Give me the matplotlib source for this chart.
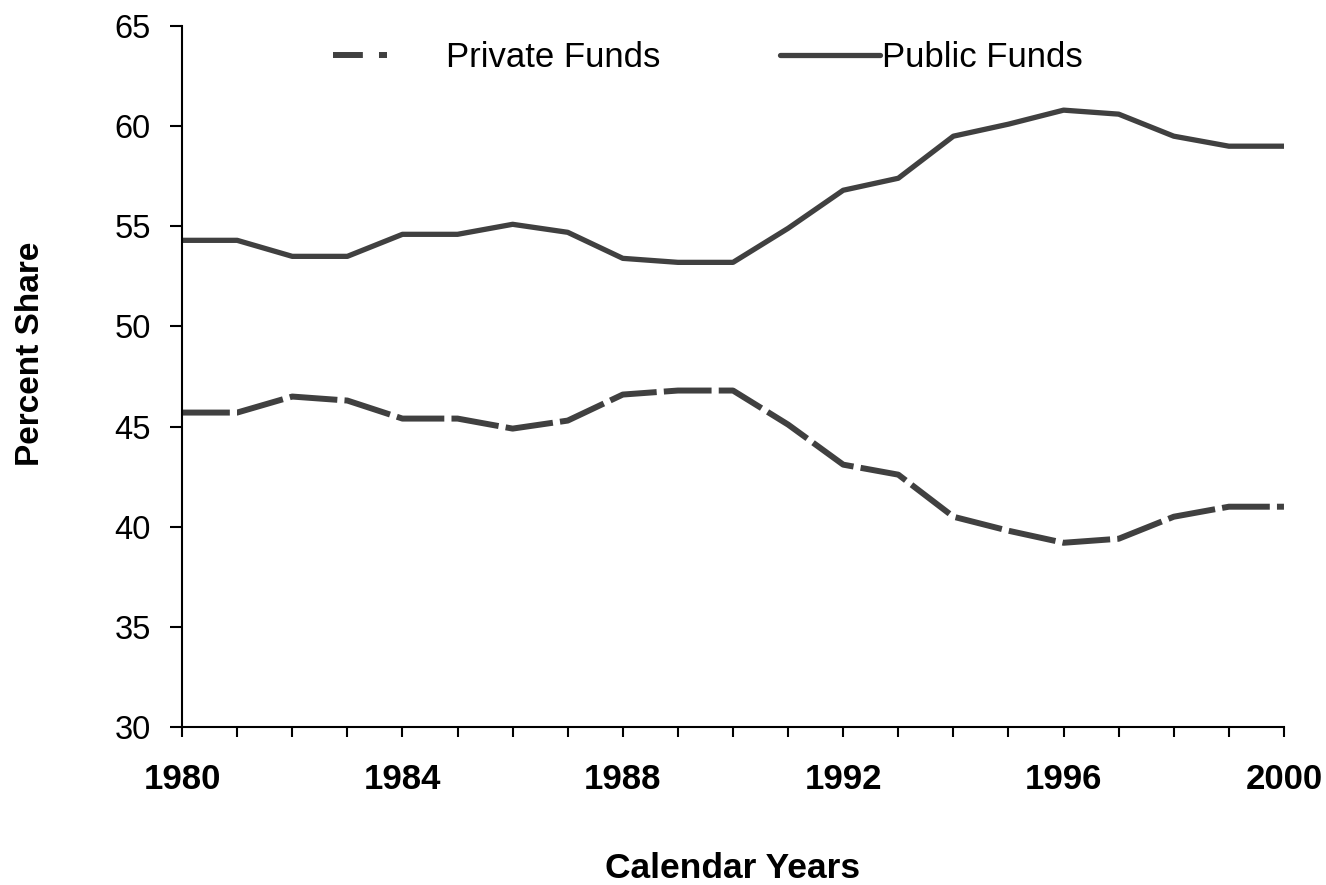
import matplotlib
matplotlib.use('Agg')
import matplotlib.pyplot as plt
from matplotlib.lines import Line2D
from matplotlib.ticker import MultipleLocator

plt.rcParams['font.family'] = ['Liberation Sans', 'DejaVu Sans']

# values
years = list(range(1980, 2001))
privateFunds = [45.7, 45.7, 46.5, 46.3, 45.4, 45.4, 44.9, 45.3, 46.6, 46.8, 46.8,
                45.1, 43.1, 42.6, 40.5, 39.8, 39.2, 39.4, 40.5, 41.0, 41.0]
publicFunds = [54.3, 54.3, 53.5, 53.5, 54.6, 54.6, 55.1, 54.7, 53.4, 53.2, 53.2,
               54.9, 56.8, 57.4, 59.5, 60.1, 60.8, 60.6, 59.5, 59.0, 59.0]
yTicks = [30, 35, 40, 45, 50, 55, 60, 65]

lineColor = '#404040'

fig = plt.figure(figsize=(13.26, 8.85), dpi=100)
ax = fig.add_axes([0.1373, 0.1785, 0.8310, 0.7921])

ax.plot(years, privateFunds, color=lineColor, lw=4.3, dashes=(8, 1.2),
        dash_capstyle='butt', solid_capstyle='butt')
ax.plot(years, publicFunds, color=lineColor, lw=3.8, solid_capstyle='round',
        solid_joinstyle='round')

ax.set_xlim(1980, 2000)
ax.set_ylim(30, 65)
ax.set_yticks(yTicks)
ax.xaxis.set_major_locator(MultipleLocator(4))
ax.xaxis.set_minor_locator(MultipleLocator(1))

for side in ['top', 'right']:
    ax.spines[side].set_visible(False)
for side in ['left', 'bottom']:
    ax.spines[side].set_linewidth(1.5)
    ax.spines[side].set_color('black')

ax.tick_params(axis='y', direction='out', length=8.6, width=1.5, pad=14, labelsize=23.5)
ax.tick_params(axis='x', which='both', direction='out', length=7, width=1.5, pad=19)
ax.tick_params(axis='x', which='major', labelsize=25)
for lab in ax.get_xticklabels():
    lab.set_fontweight('bold')

ax.set_xlabel('Calendar Years', fontsize=25.5, fontweight='bold')
ax.xaxis.label.set_verticalalignment('baseline')
ax.xaxis.set_label_coords(0.5, -0.2154)
ax.set_ylabel('Percent Share', fontsize=24, fontweight='bold')
ax.yaxis.label.set_verticalalignment('center')
ax.yaxis.set_label_coords(-0.1379, 0.532)

# legend, two pieces like the original
privHandle = Line2D([], [], color=lineColor, lw=4.3, dashes=(5, 2.7), dash_capstyle='butt')
pubHandle = Line2D([], [], color=lineColor, lw=3.8, solid_capstyle='round')
leg1 = fig.legend([privHandle], ['Private Funds'], loc='center left',
                  bbox_to_anchor=(0.251, 0.935), frameon=False, fontsize=25,
                  handlelength=1.55, handletextpad=1.7, borderaxespad=0, borderpad=0)
leg2 = fig.legend([pubHandle], ['Public Funds'], loc='center left',
                  bbox_to_anchor=(0.588, 0.935), frameon=False, fontsize=25,
                  handlelength=2.9, handletextpad=0.05, borderaxespad=0, borderpad=0)

fig.savefig('out.png', dpi=100)
